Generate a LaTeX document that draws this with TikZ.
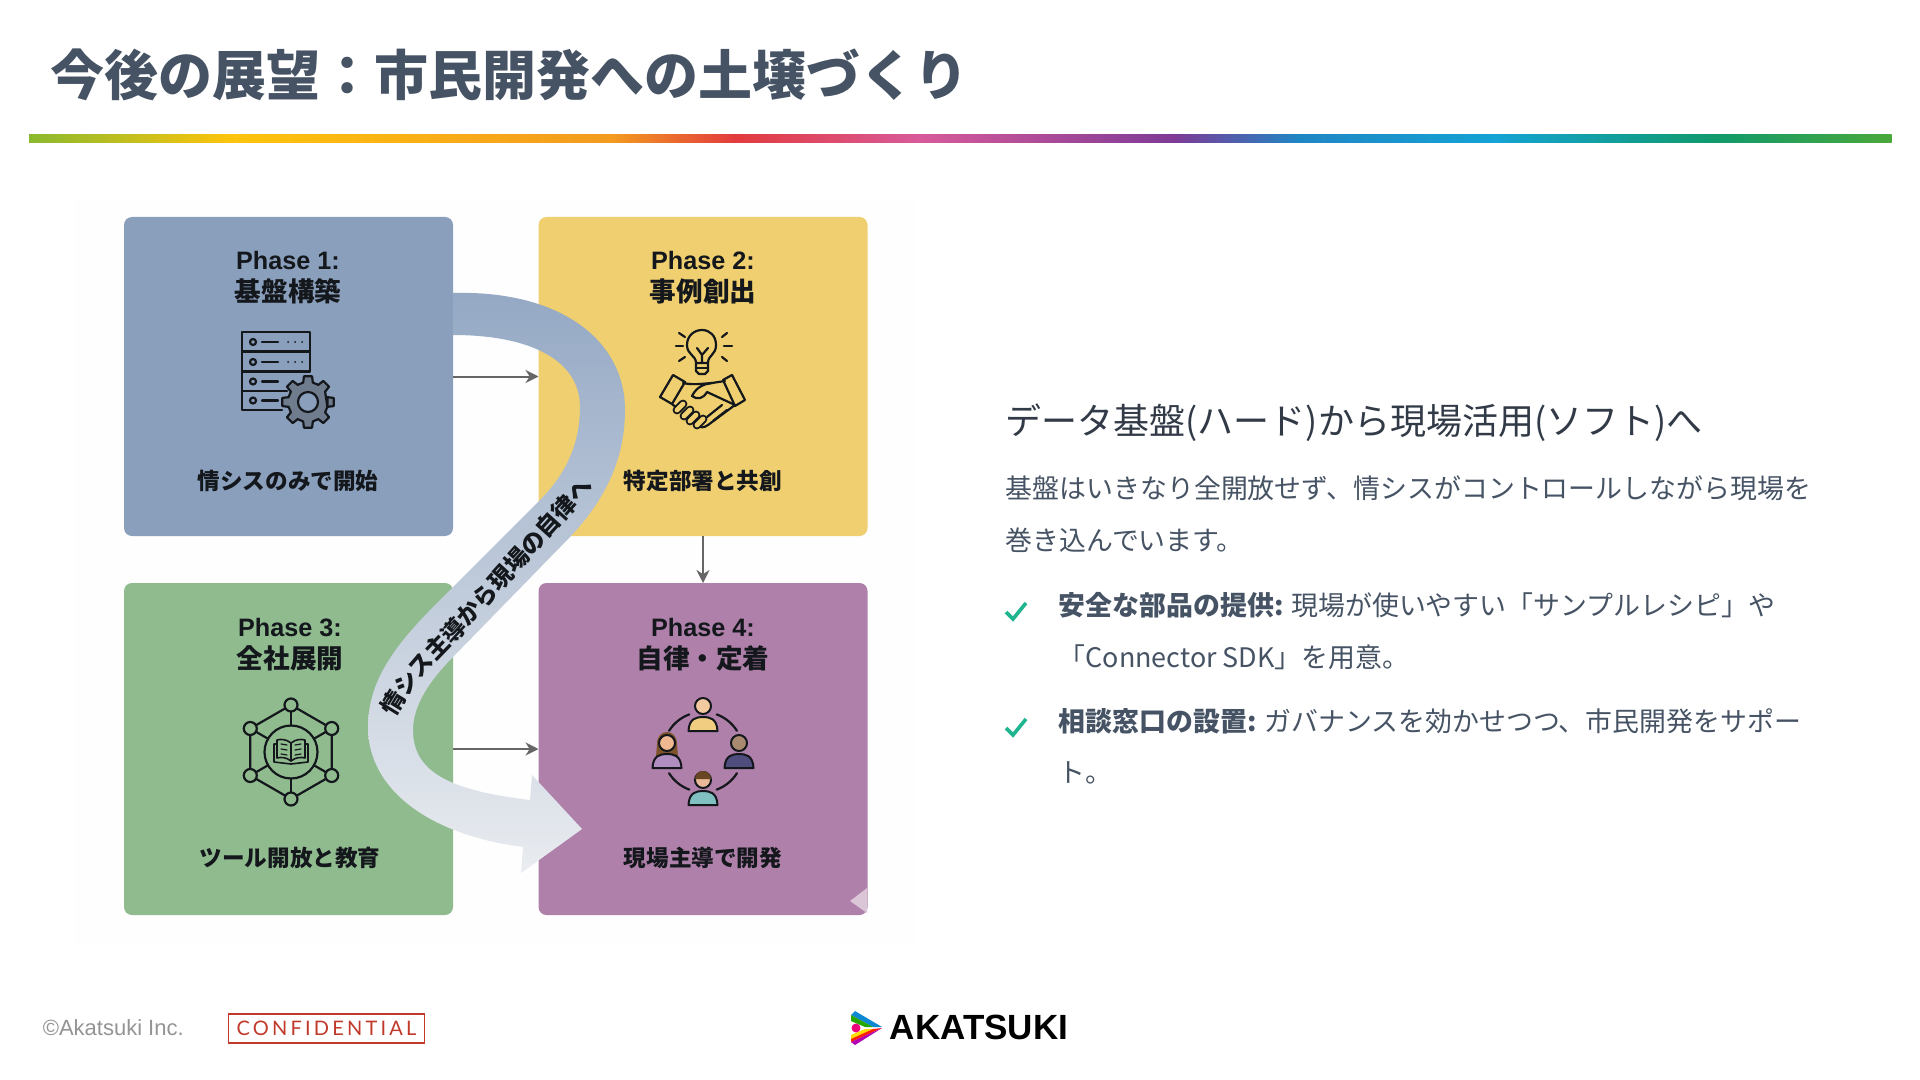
\documentclass[tikz,border=0pt]{standalone}
\usepackage{fontspec}
\usetikzlibrary{arrows.meta,decorations.text}
\setmainfont{Noto Sans CJK JP}
\newfontfamily\latinfont{Liberation Sans}
\newfontfamily\stampfont[LetterSpace=16]{Lato}
\newcommand{\bandfont}{\bfseries\fontsize{11.8}{13}\selectfont}
\definecolor{slate}{HTML}{465364}
\definecolor{ink}{HTML}{14181C}
\definecolor{checkgreen}{HTML}{1FB58F}
\definecolor{stampred}{HTML}{C0392B}
\definecolor{boxblue}{HTML}{8A9FBC}
\definecolor{boxyellow}{HTML}{EFCF6F}
\definecolor{boxgreen}{HTML}{90BB8F}
\definecolor{boxpurple}{HTML}{AF80A9}
\definecolor{bandtop}{HTML}{94A8C4}
\definecolor{bandmid}{HTML}{BAC7D7}
\definecolor{bandbot}{HTML}{E9ECF0}
\definecolor{geargrey}{HTML}{6E7C8E}
\newcommand{\person}[4]{%
  \definecolor{bodycol}{HTML}{#3}%
  \definecolor{headcol}{HTML}{#4}%
  \begin{scope}[shift={(#1,#2)}]
    \draw[icon,line width=1pt,fill=bodycol] (-14.5,25) .. controls (-14,12) and (-6,11) .. (0,11) .. controls (6,11) and (14,12) .. (14.5,25) -- cycle;
    \draw[icon,line width=1pt,fill=headcol] (0,0) circle (8);
  \end{scope}}

\begin{document}
\begin{tikzpicture}[x=0.5pt,y=-0.5pt,>={Stealth[length=6.5pt,width=6.5pt]}, line width=0.8pt]
  \tikzstyle{phase} = [rectangle, rounded corners=4pt, minimum width=164.5pt, inner sep=0pt, outer sep=0pt]
  \tikzstyle{phasetitle} = [align=center, inner sep=0pt, text=ink, font=\bfseries\fontsize{13.3}{16}\selectfont]
  \tikzstyle{phasetext} = [inner sep=0pt, text=ink, font=\bfseries\fontsize{11.3}{13}\selectfont]
  \tikzstyle{flow} = [->, draw=black!60, line width=1pt]
  \tikzstyle{icon} = [draw=ink, line width=1.1pt, line cap=round, line join=round]
  \tikzstyle{bodyline} = [anchor=west, inner sep=0pt, text=slate, font=\fontsize{13.45}{16}\selectfont]
  \tikzstyle{check} = [draw=checkgreen, line width=1.8pt]

  \fill[white] (0,0) rectangle (1920,1080);
  \useasboundingbox (0,0) rectangle (1920,1080);

  % Title and colour bar
  \node[anchor=west, inner sep=0pt, text=slate, font=\bfseries\fontsize{27}{30}\selectfont] (title) at (50,75) {今後の展望：市民開発への土壌づくり};
  \foreach \xa/\xb/\ca/\cb in {29/233/8AB92E/FFC40D, 233/612/FFC40D/F39A1F, 612/735/F39A1F/E23B3D, 735/918/E23B3D/D85A9A, 918/1175/D85A9A/7D3A96, 1175/1298/7D3A96/1F86C4, 1298/1494/1F86C4/14A3D4, 1494/1714/14A3D4/109A6C, 1714/1891/109A6C/4AA83A}{
    \definecolor{ca}{HTML}{\ca}
    \definecolor{cb}{HTML}{\cb}
    \shade[left color=ca, right color=cb] (\xa,135) rectangle (\xb+0.5,143);
  }

  % Picture ground
  \fill[black!0.5] (75,200) rectangle (915,945);

  % Phase boxes
  \node[phase, fill=boxblue, minimum height=159.5pt] (p1) at (288.5,376.5) {};
  \node[phase, fill=boxyellow, minimum height=159.5pt] (p2) at (703,376.5) {};
  \node[phase, fill=boxgreen, minimum height=166pt] (p3) at (288.5,749) {};
  \node[phase, fill=boxpurple, minimum height=166pt] (p4) at (703,749) {};
  \fill[boxpurple!45!white] (867,888) -- (850,901) -- (867,913) -- cycle;

  % Box texts
  \node[phasetitle] (t1) at (288,277.5) {{\latinfont\fontsize{12.6}{16}\selectfont Phase 1:}\\基盤構築};
  \node[phasetitle] (t2) at (703,277.5) {{\latinfont\fontsize{12.6}{16}\selectfont Phase 2:}\\事例創出};
  \node[phasetitle] (t3) at (290,644.5) {{\latinfont\fontsize{12.6}{16}\selectfont Phase 3:}\\全社展開};
  \node[phasetitle] (t4) at (703,644.5) {{\latinfont\fontsize{12.6}{16}\selectfont Phase 4:}\\自律・定着};
  \node[phasetext] (s1) at (288,481) {情シスのみで開始};
  \node[phasetext] (s2) at (703,481) {特定部署と共創};
  \node[phasetext] (s3) at (290,858) {ツール開放と教育};
  \node[phasetext] (s4) at (703,858) {現場主導で開発};

  % Arrows between boxes
  \draw[flow] (p1) -- (p2);
  \draw[flow] (p3) -- (p4);
  \draw[flow] (p2) -- (p4);

  % Server icon
  \foreach \y in {332,352}{
    \draw[icon] (242,\y) rectangle (310,\y+19.5);
    \draw[icon] (253,\y+10) circle (3);
    \draw[icon] (262,\y+10) -- (278,\y+10);
    \foreach \x in {288,295,302}{\fill[ink] (\x,\y+10) circle (1);}
  }
  \draw[icon] (242,371.5) -- (242,410) -- (282,410);
  \draw[icon] (242,391) -- (287,391);
  \foreach \y in {372,391}{
    \draw[icon] (253,\y+9.5) circle (3);
    \draw[icon] (262,\y+9.5) -- (278,\y+9.5);
  }
  \begin{scope}[shift={(308,402)}]
    \draw[icon, fill=geargrey] (14:20) \foreach \a in {0,45,...,315}{ -- (\a-14:20) -- (\a-9:26) -- (\a+9:26) -- (\a+14:20)} -- cycle;
    \draw[icon, fill=boxblue] (0,0) circle (10);
  \end{scope}

  % Bulb and handshake icon
  \draw[icon] (696,363) .. controls (696,355) and (687,355) .. (687,345) .. controls (687,336) and (694,330) .. (702,330) .. controls (710,330) and (716,336) .. (716,345) .. controls (716,355) and (708,355) .. (708,363);
  \draw[icon] (696,363) -- (696,371) -- (699,374) -- (705,374) -- (708,371) -- (708,363) -- cycle;
  \draw[icon] (696,368) -- (708,368);
  \draw[icon] (697,348) -- (702,355) -- (708,348) (702,355) -- (702,363);
  \foreach \xa/\ya/\xb/\yb in {676/346/683/346, 724/346/732/346, 679/333/685/337, 727/333/722/337, 679/361/685/357, 727/361/722/357}{
    \draw[icon] (\xa,\ya) -- (\xb,\yb);
  }
  \draw[icon] (660,397) -- (673,375) -- (685,382) -- (672,404) -- cycle;
  \draw[icon] (745,400) -- (732,375) -- (723,380) -- (735,406) -- cycle;
  \draw[icon] (683,383) .. controls (692,385) and (700,384) .. (712,383) -- (725,381);
  \draw[icon] (712,383) .. controls (705,384) and (697,386) .. (692,396) .. controls (697,400) and (703,399) .. (707,392) -- (735,405) -- (708,425) .. controls (704,428) and (700,428) .. (697,425);
  \draw[icon] (672,404) -- (678,409);
  \draw[icon] (707,417) -- (722,405) (713,421) -- (727,410);
  \foreach \x/\y in {680/407,687/413,693/418,700/422}{
    \draw[draw=ink, line width=4.4pt, line cap=round] (\x+3,\y-3) -- (\x-3,\y+3);
    \draw[draw=boxyellow, line width=2.4pt, line cap=round] (\x+3,\y-3) -- (\x-3,\y+3);
  }

  % Network icon
  \coordinate (net) at (291,752);
  \begin{scope}[shift={(net)}]
    \draw[icon] (90:47) -- (30:47) -- (-30:47) -- (-90:47) -- (-150:47) -- (150:47) -- cycle;
    \foreach \a in {30,90,150,210,270,330}{
      \draw[icon] (\a:26.5) -- (\a:47);
      \draw[icon, fill=boxgreen] (\a:47) circle (6.5);
    }
    \draw[icon] (0,0) circle (26.5);
    \draw[icon, line width=0.8pt] (0,-9) .. controls (-5,-13) and (-10,-13) .. (-14,-12) -- (-14,6) .. controls (-10,5) and (-5,5) .. (0,9) .. controls (5,5) and (10,5) .. (14,6) -- (14,-12) .. controls (10,-13) and (5,-13) .. (0,-9) -- cycle;
    \draw[icon, line width=0.8pt] (0,-9) -- (0,9);
    \draw[icon, line width=0.8pt] (-14,-8) -- (-17,-8) -- (-17,10) -- (0,12) -- (17,10) -- (17,-8) -- (14,-8);
    \foreach \y in {-7,-2,3}{
      \draw[icon, line width=0.6pt] (-10,\y-1) -- (-4,\y);
      \draw[icon, line width=0.6pt] (10,\y-1) -- (4,\y);
    }
  \end{scope}

  % People icon
  \coordinate (team) at (703,752);
  \foreach \a in {212,290,32,110}{
    \draw[icon] (team) ++(\a:40) arc[start angle=\a, delta angle=38, radius=40];
  }
  \fill[brown!65!black] (657,744) .. controls (657,728) and (677,728) .. (677,744) -- (678,757) -- (656,757) -- cycle;
  \person{703}{706}{F0CD80}{F3C9A0}
  \person{667}{743}{B08FC0}{F0B890}
  \person{739}{743}{4F4C7E}{A98A70}
  \person{703}{780}{80C0C0}{E8B898}
  \fill[brown!55!black] (695,779) arc[start angle=180, end angle=360, radius=8] -- cycle;

  % Big S arrow
  \shade[top color=bandtop, middle color=bandmid, bottom color=bandbot] (453,293) .. controls (560,290) and (625,340) .. (625,410) .. controls (625,465) and (600,505) .. (570,537) -- (453,657) .. controls (430,680) and (413,705) .. (413,730) .. controls (413,770) and (445,790) .. (530,800) -- (532,775) -- (582,829) -- (521,873) -- (523,847) .. controls (430,835) and (368,790) .. (368,727) .. controls (368,670) and (410,630) .. (453,587) -- (540,500) .. controls (565,475) and (580,445) .. (580,407) .. controls (580,360) and (530,335) .. (453,335) -- cycle;
  \path[decorate, decoration={text along path, text align=center, raise=-4pt, text={|\bandfont\color{ink}|情シス主導から現場の自律へ}}] (385,718) .. controls (405,680) and (430,655) .. (453,632) -- (592,478);

  % Right column
  \node[anchor=west, inner sep=0pt, text=slate!70!black, font=\fontsize{18}{22}\selectfont] (head) at (1005,422.5) {データ基盤(ハード)から現場活用(ソフト)へ};
  \node[bodyline] (l1) at (1005,488) {基盤はいきなり全開放せず、情シスがコントロールしながら現場を};
  \node[bodyline] (l2) at (1005,540) {巻き込んでいます。};
  \node[bodyline] (b1) at (1058,605) {{\bfseries 安全な部品の提供:} 現場が使いやすい「サンプルレシピ」や};
  \node[bodyline] (b2) at (1058,657) {「Connector SDK」を用意。};
  \node[bodyline] (b3) at (1058,721) {{\bfseries 相談窓口の設置:} ガバナンスを効かせつつ、市民開発をサポー};
  \node[bodyline] (b4) at (1058,773) {ト。};
  \draw[check] (1006,612) -- (1013,619) -- (1026,603);
  \draw[check] (1006,728) -- (1013,735) -- (1026,719);

  % Footer
  \node[anchor=west, inner sep=0pt, text=black!42, font=\latinfont\fontsize{11}{13}\selectfont] (copy) at (42,1028) {©Akatsuki Inc.};
  \node[draw=stampred, line width=0.6pt, text=stampred, inner sep=0pt, minimum width=98pt, minimum height=14.5pt, font=\stampfont\fontsize{10}{12}\selectfont] (stamp) at (326.5,1028.5) {CONFIDENTIAL};
  \fill[cyan!70!blue] (851,1015) -- (855,1011) -- (882,1027) -- (873,1027) -- cycle;
  \fill[green!60!black!85!yellow] (851,1015) -- (873,1027) -- (865,1027) -- (851,1021) -- cycle;
  \fill[yellow!80!orange] (865,1029) -- (873,1029) -- (851,1039) -- (851,1035) -- cycle;
  \fill[red!75!orange] (873,1029) -- (882,1028) -- (851,1042) -- (851,1039) -- cycle;
  \fill[violet!60!magenta] (882,1028) -- (855,1045) -- (851,1042) -- cycle;
  \fill[magenta!85!red] (856,1028) circle (4.5);
  \node[anchor=west, inner sep=0pt, text=black, font=\latinfont\bfseries\fontsize{17.5}{20}\selectfont] (logo) at (889,1027) {AKATSUKI};
\end{tikzpicture}
\end{document}
